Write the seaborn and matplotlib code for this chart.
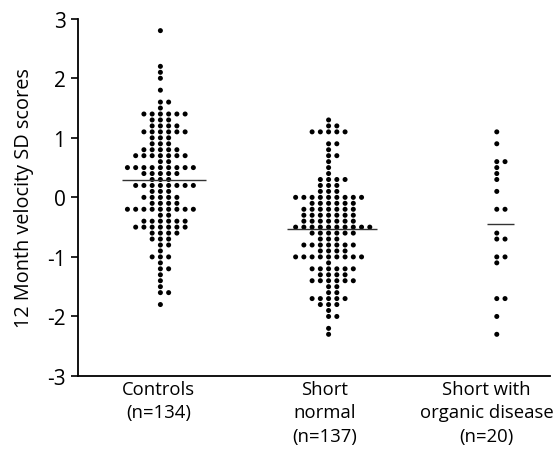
import numpy as np
import pandas as pd
import matplotlib
matplotlib.use("Agg")
import matplotlib.pyplot as plt
import matplotlib.transforms as mtransforms
import seaborn as sns

# ---- data: value rows (SD score) and number of dots in each row ----
groups = ["Controls", "Short normal", "Short with organic disease"]
group_labels = ["Controls\n(n=134)", "Short\nnormal\n(n=137)", "Short with\norganic disease\n(n=20)"]

controls_values = [2.8, 2.2, 2.1, 2.0, 1.8, 1.6, 1.5, 1.4, 1.3, 1.2, 1.1, 1.0, 0.9, 0.8, 0.7, 0.6,
                   0.5, 0.4, 0.3, 0.2, 0.1, 0.0, -0.1, -0.2, -0.3, -0.4, -0.5, -0.6, -0.7, -0.8,
                   -0.9, -1.0, -1.1, -1.2, -1.3, -1.4, -1.5, -1.6, -1.8]
controls_counts = [1, 1, 1, 1, 1, 2, 1, 6, 3, 4, 6, 3, 3, 5, 7, 2,
                   9, 5, 3, 8, 3, 5, 4, 9, 2, 6, 7, 4, 3, 2,
                   1, 3, 1, 2, 1, 1, 1, 2, 1]

short_values = [1.3, 1.2, 1.1, 0.9, 0.8, 0.7, 0.6, 0.5, 0.4, 0.3, 0.2, 0.1, 0.0, -0.1, -0.2,
                -0.3, -0.4, -0.5, -0.6, -0.7, -0.8, -0.9, -1.0, -1.1, -1.2, -1.3, -1.4, -1.5,
                -1.6, -1.7, -1.8, -1.9, -2.0, -2.2, -2.3]
short_counts = [1, 2, 5, 2, 1, 2, 1, 1, 1, 4, 3, 3, 9, 6, 7,
                7, 7, 10, 6, 3, 7, 4, 9, 1, 6, 4, 6, 2,
                2, 5, 3, 1, 2, 1, 1]

organic_values = [1.1, 0.9, 0.6, 0.5, 0.4, 0.3, 0.1, -0.2, -0.6, -0.7, -1.0, -1.1, -1.7, -2.0, -2.3]
organic_counts = [1, 1, 2, 1, 1, 1, 1, 2, 1, 2, 2, 1, 2, 1, 1]

group_means = [0.29, -0.53, -0.45]

# ---- build a long table of dots (column slot within each row) ----
slot_order = [0, 1, -1, 2, -2, 3, -3, 4, -4, 5, -5]
rows = []
for gi, (vals, cnts) in enumerate([(controls_values, controls_counts),
                                   (short_values, short_counts),
                                   (organic_values, organic_counts)]):
    for v, c in zip(vals, cnts):
        for k in range(c):
            rows.append({"group": groups[gi], "gpos": gi, "slot": slot_order[k], "value": v})
df = pd.DataFrame(rows)
col_step = 0.049
df["x"] = df["gpos"] + df["slot"] * col_step

sns.set_style("ticks")
plt.rcParams["font.family"] = ["Open Sans", "DejaVu Sans"]

fig = plt.figure(figsize=(5.57, 4.64), dpi=100)
ax = fig.add_axes([0.140, 0.1875, 0.847, 0.770])

sns.scatterplot(data=df, x="x", y="value", ax=ax, color="black", s=13,
                marker="o", edgecolor="none", legend=False)

half_widths = [0.25, 0.27, 0.08]
for gi, m in enumerate(group_means):
    ax.hlines(m, gi - half_widths[gi] + 0.02, gi + half_widths[gi] + 0.02,
              color="#333333", lw=1.0)

ax.set_xlim(-0.49, 2.315)
ax.set_ylim(-3, 3)
ax.set_yticks([-3, -2, -1, 0, 1, 2, 3])
ax.set_yticklabels(["-3", "-2", "-1", "0", "1", "2", "3"])
ax.set_xticks([0, 1, 2])
ax.set_xticklabels(group_labels, va="top", linespacing=1.38)
ax.tick_params(axis="x", length=0, pad=3, labelsize=13.3, labelcolor="black")
ax.tick_params(axis="y", length=5, width=1.2, pad=4, labelsize=15, color="black", labelcolor="black")
# small horizontal nudges of the category labels (in pixels)
for lab, dx in zip(ax.get_xticklabels(), [-2, -4, -10]):
    lab.set_transform(lab.get_transform() + mtransforms.ScaledTranslation(dx / 100, 0, fig.dpi_scale_trans))
ax.set_xlabel("")
ax.set_ylabel("12 Month velocity SD scores", fontsize=14.3, labelpad=9, color="black")
sns.despine(ax=ax)
for sp in ["left", "bottom"]:
    ax.spines[sp].set_linewidth(1.3)
    ax.spines[sp].set_color("black")

fig.savefig("out.png", dpi=100)
